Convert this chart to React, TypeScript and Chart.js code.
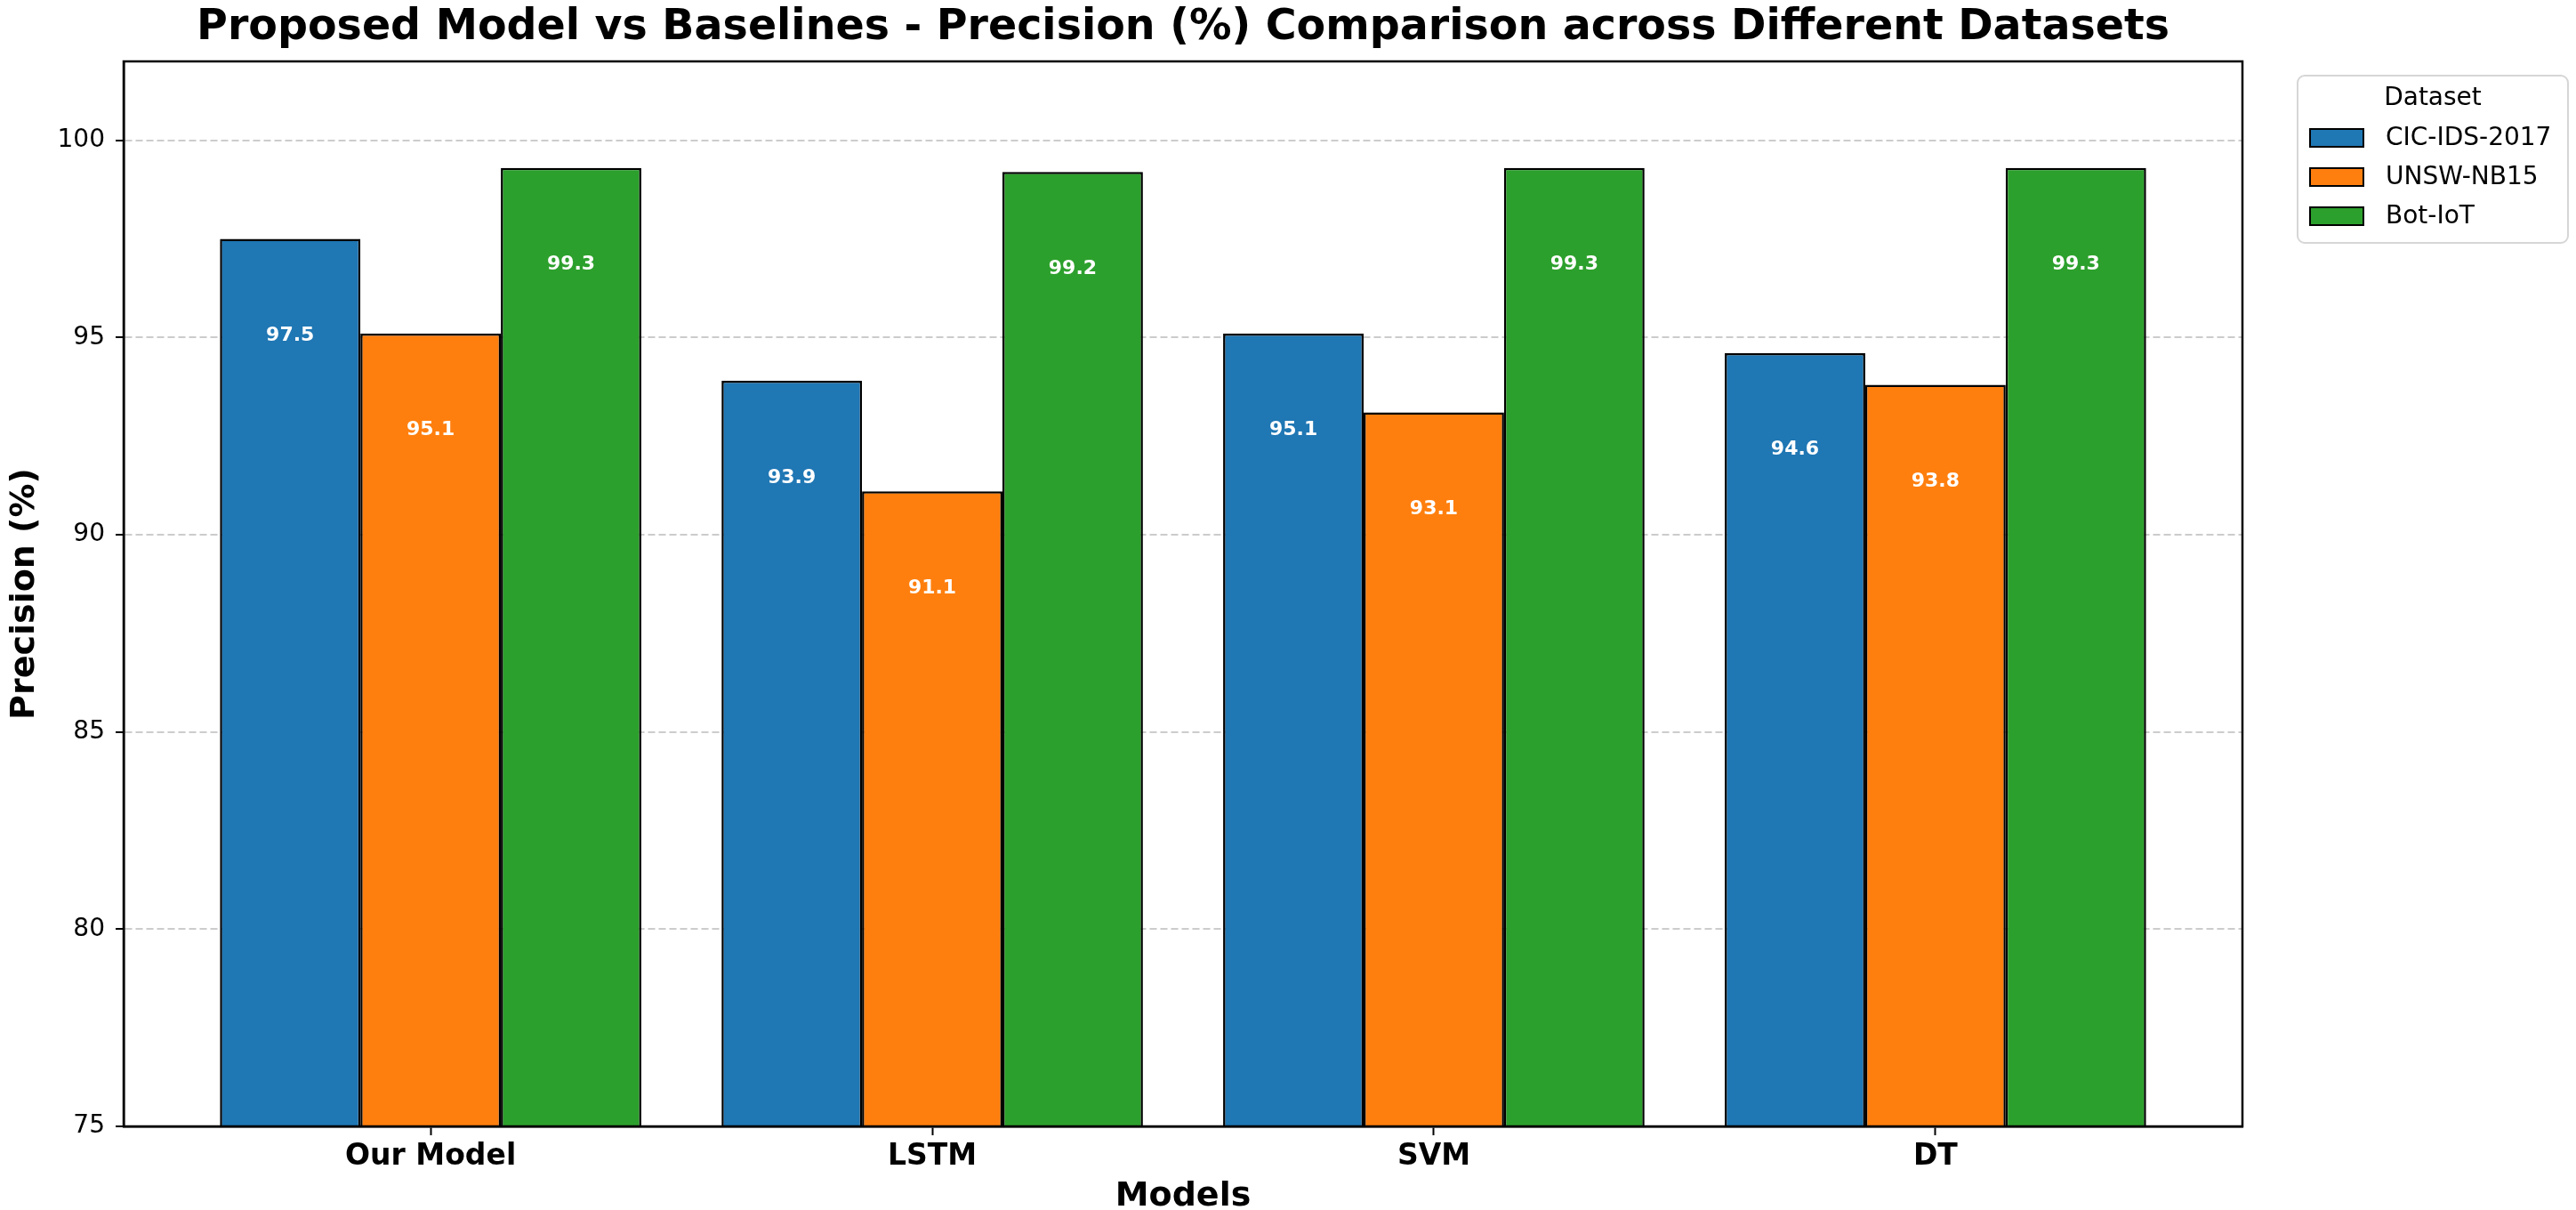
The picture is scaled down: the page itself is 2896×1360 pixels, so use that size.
import { useEffect, useRef } from "react";
import { Chart, registerables } from "chart.js";

Chart.register(...registerables);

const models = ["Our Model", "LSTM", "SVM", "DT"];
const datasetNames = ["CIC-IDS-2017", "UNSW-NB15", "Bot-IoT"];
const cicIds2017 = [97.5, 93.9, 95.1, 94.6];
const unswNb15 = [95.1, 91.1, 93.1, 93.8];
const botIot = [99.3, 99.2, 99.3, 99.3];
const yTicks = [75, 80, 85, 90, 95, 100];

const colors = ["#1f77b4", "#ff7f0e", "#2ca02c"];
const FONT = "'DejaVu Sans', sans-serif";

// white numbers inside the bars, a bit below the top
const valueLabels = {
  id: "valueLabels",
  afterDraw(chart: any) {
    const { ctx } = chart;
    const y = chart.scales.y;
    ctx.save();
    ctx.fillStyle = "#fff";
    ctx.font = `bold 22px ${FONT}`;
    ctx.textAlign = "center";
    ctx.textBaseline = "alphabetic";
    chart.data.datasets.forEach((ds: any, i: number) => {
      const meta = chart.getDatasetMeta(i);
      meta.data.forEach((bar: any, j: number) => {
        const v = ds.data[j].y;
        ctx.fillText(v.toFixed(1), bar.x, y.getPixelForValue(v - 2.4) + 8);
      });
    });
    ctx.restore();
  },
};

// matplotlib style box around the plot
const frame = {
  id: "frame",
  afterDraw(chart: any) {
    const { ctx, chartArea: a } = chart;
    ctx.save();
    ctx.strokeStyle = "#000";
    ctx.lineWidth = 2.5;
    ctx.strokeRect(a.left, a.top, a.right - a.left, a.bottom - a.top);
    ctx.restore();
  },
};

const sideLegend = {
  id: "sideLegend",
  afterDraw(chart: any) {
    const { ctx, chartArea: a } = chart;
    const left = a.right + 62;
    const top = a.top + 16;
    const w = 304;
    const h = 188;
    ctx.save();
    ctx.beginPath();
    ctx.roundRect(left, top, w, h, 8);
    ctx.fillStyle = "rgba(255,255,255,0.8)";
    ctx.fill();
    ctx.strokeStyle = "#d6d6d6";
    ctx.lineWidth = 2;
    ctx.stroke();

    ctx.fillStyle = "#000";
    ctx.font = `28px ${FONT}`;
    ctx.textAlign = "center";
    ctx.textBaseline = "alphabetic";
    ctx.fillText("Dataset", left + w / 2, top + 33);

    ctx.textAlign = "left";
    chart.data.datasets.forEach((ds: any, i: number) => {
      const sy = top + 60 + i * 44;
      ctx.fillStyle = ds.backgroundColor;
      ctx.fillRect(left + 14, sy, 60, 20);
      ctx.strokeStyle = "#000";
      ctx.lineWidth = 2;
      ctx.strokeRect(left + 14, sy, 60, 20);
      ctx.fillStyle = "#000";
      ctx.fillText(ds.label, left + 99, sy + 18);
    });
    ctx.restore();
  },
};

const series = [cicIds2017, unswNb15, botIot];

export default function App() {
  const chartRef = useRef<HTMLCanvasElement | null>(null);
  const chartInstance = useRef<Chart | null>(null);

  useEffect(() => {
    document.body.style.margin = "0";
    document.body.style.overflow = "hidden";
    if (chartInstance.current) {
      chartInstance.current.destroy();
    }
    if (!chartRef.current) return;

    chartInstance.current = new Chart(chartRef.current, {
      type: "bar",
      data: {
        datasets: datasetNames.map((name, i) => ({
          label: name,
          data: series[i].map((v, j) => ({ x: j, y: v })),
          backgroundColor: colors[i],
          borderColor: "#000",
          borderWidth: 2.5,
          borderSkipped: false,
          categoryPercentage: 0.84,
          barPercentage: 1,
        })),
      },
      options: {
        responsive: false,
        animation: false,
        devicePixelRatio: 1,
        layout: { padding: { left: 0, right: 375, top: 0, bottom: 0 } },
        plugins: {
          legend: { display: false },
          tooltip: { enabled: false },
          title: {
            display: true,
            fullSize: false,
            text: "Proposed Model vs Baselines - Precision (%) Comparison across Different Datasets",
            color: "#000",
            font: { family: FONT, size: 47.5, weight: "bold", lineHeight: 1.2 },
            padding: { top: 3, bottom: 9 },
          },
        },
        scales: {
          x: {
            type: "linear",
            min: -0.612,
            max: 3.612,
            offset: false,
            afterBuildTicks: (s: any) => {
              s.ticks = models.map((_, i) => ({ value: i }));
            },
            afterFit: (s: any) => {
              s.height = 94;
            },
            ticks: {
              autoSkip: false,
              maxRotation: 0,
              padding: 5,
              color: "#000",
              font: { family: FONT, size: 33, weight: "bold" },
              callback: (v: any) => models[v] ?? "",
            },
            grid: {
              offset: false,
              drawOnChartArea: false,
              drawTicks: true,
              tickLength: 10,
              tickColor: "#000",
              tickWidth: 2,
            },
            border: { display: true, color: "#000", width: 2.5 },
            title: {
              display: true,
              text: "Models",
              color: "#000",
              font: { family: FONT, size: 38, weight: "bold", lineHeight: 0.8 },
              padding: { top: 0, bottom: 0 },
            },
          },
          y: {
            min: 75,
            max: 102,
            z: 1,
            afterBuildTicks: (s: any) => {
              s.ticks = yTicks.map((v) => ({ value: v }));
            },
            afterFit: (s: any) => {
              s.width = 139;
            },
            ticks: {
              padding: 12,
              color: "#000",
              font: { family: FONT, size: 28 },
            },
            grid: {
              color: "rgba(176,176,176,0.65)",
              lineWidth: 2,
              tickLength: 9,
              tickColor: "#000",
              tickWidth: 2,
            },
            border: { display: true, color: "#000", width: 2.5, dash: [8, 4] },
            title: {
              display: true,
              text: "Precision (%)",
              color: "#000",
              font: { family: FONT, size: 38, weight: "bold", lineHeight: 1.2 },
              padding: { top: 5, bottom: 0 },
            },
          },
        },
      },
      plugins: [valueLabels, frame, sideLegend],
    } as any);

    return () => {
      if (chartInstance.current) {
        chartInstance.current.destroy();
        chartInstance.current = null;
      }
    };
  }, []);

  return (
    <div style={{ width: 2896, height: 1360, background: "#fff" }}>
      <canvas ref={chartRef} width={2896} height={1360} style={{ display: "block" }}></canvas>
    </div>
  );
}
